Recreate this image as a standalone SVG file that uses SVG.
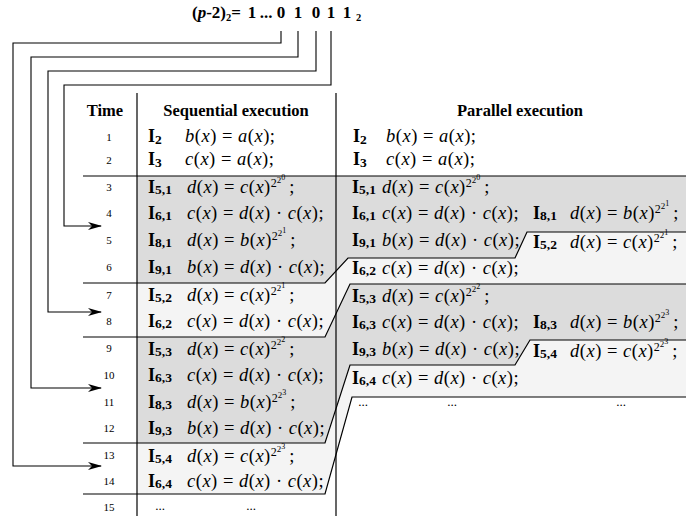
<svg xmlns="http://www.w3.org/2000/svg" width="697" height="516" viewBox="0 0 697 516">
  <defs>
    <style>
      .hd { font-family: "Liberation Serif", serif; font-weight: bold; font-size: 16.5px; }
      .bits { font-family: "Liberation Serif", serif; font-weight: bold; font-size: 17px; }
      .sub { font-size: 10.5px; }
      .num { font-family: "Liberation Serif", serif; font-size: 11px; text-anchor: middle; }
      .lb { font-family: "Liberation Serif", serif; font-weight: bold; font-size: 18px; }
      .lb tspan { font-size: 13.5px; }
      .m { font-family: "Liberation Serif", serif; font-size: 18.5px; word-spacing: 0; letter-spacing: 0.5px; }
      .i { font-style: italic; }
      .e1 { font-size: 12px; letter-spacing: 0; }
      .e2 { font-size: 9px; letter-spacing: 0; }
      .e3 { font-size: 8px; letter-spacing: 0; }
      .dots { font-family: "Liberation Serif", serif; font-size: 13px; text-anchor: middle; }
      .rule { fill: none; stroke: #000; stroke-width: 1.2; }
      .wire { fill: none; stroke: #000; stroke-width: 1.1; }
      .dark { fill: #dcdcdc; }
      .light { fill: #f4f4f4; }
    </style>
    <marker id="arrow" markerWidth="14" markerHeight="10" refX="13" refY="5" orient="auto" markerUnits="userSpaceOnUse">
      <path d="M0,1 L14,5 L0,9 L4,5 Z" fill="#000"/>
    </marker>
  </defs>

  <rect width="697" height="516" fill="#fff"/>

  <!-- binary expansion of p-2 -->
  <g id="exponent-bits">
    <text class="bits" x="192" y="18">(<tspan font-style="italic">p</tspan>-2)<tspan class="sub" dy="3">2</tspan><tspan dy="-3">=</tspan></text>
    <text class="bits" text-anchor="middle" x="252" y="18">1</text>
    <text class="bits" text-anchor="middle" x="266" y="18">...</text>
    <text class="bits" text-anchor="middle" x="281" y="18">0</text>
    <text class="bits" text-anchor="middle" x="298" y="18">1</text>
    <text class="bits" text-anchor="middle" x="316" y="18">0</text>
    <text class="bits" text-anchor="middle" x="331" y="18">1</text>
    <text class="bits" text-anchor="middle" x="347" y="18">1</text>
    <text class="bits sub" x="356" y="21">2</text>
  </g>

  <!-- shaded execution blocks -->
  <g id="blocks">
    <polygon class="dark" points="137,176 686,176 686,232 527,232 515,258 348,258 325,283 137,283"/>
    <polygon class="light" points="137,283 325,283 348,258 515,258 527,232 686,232 686,284 350,284 325,337 137,337"/>
    <polygon class="dark" points="137,337 325,337 350,284 686,284 686,340 530,340 515,365 350,365 325,443 137,443"/>
    <polygon class="light" points="137,443 325,443 350,365 515,365 530,340 686,340 686,397 352,397 325,494 137,494"/>
  </g>

  <!-- table rules -->
  <g id="rules">
    <line class="rule" x1="137" y1="93" x2="137" y2="516"/>
    <line class="rule" x1="336" y1="93" x2="336" y2="516"/>
    <line class="rule" x1="83" y1="176" x2="686" y2="176"/>
    <polyline class="rule" points="83,283 325,283 348,258 515,258 527,232 686,232"/>
    <polyline class="rule" points="83,337 325,337 350,284 686,284"/>
    <polyline class="rule" points="83,443 325,443 350,365 515,365 530,340 686,340"/>
    <polyline class="rule" points="83,494 325,494 352,397 686,397"/>
  </g>

  <!-- column headers -->
  <g id="headers">
    <text class="hd" x="105" y="116" text-anchor="middle">Time</text>
    <text class="hd" x="236" y="116" text-anchor="middle">Sequential execution</text>
    <text class="hd" x="520" y="116" text-anchor="middle">Parallel execution</text>
  </g>

  <!-- time steps -->
  <g id="time">
    <text class="num" x="109" y="141">1</text>
    <text class="num" x="109" y="164">2</text>
    <text class="num" x="109" y="191">3</text>
    <text class="num" x="109" y="217">4</text>
    <text class="num" x="109" y="244">5</text>
    <text class="num" x="109" y="271">6</text>
    <text class="num" x="109" y="299">7</text>
    <text class="num" x="109" y="325">8</text>
    <text class="num" x="109" y="352">9</text>
    <text class="num" x="109" y="379">10</text>
    <text class="num" x="109" y="406">11</text>
    <text class="num" x="109" y="432">12</text>
    <text class="num" x="109" y="459">13</text>
    <text class="num" x="109" y="485">14</text>
    <text class="num" x="109" y="511">15</text>
  </g>

  <!-- sequential execution -->
  <g id="sequential">
    <text class="lb" x="148" y="142">I<tspan dy="2">2</tspan></text>
    <text class="m" x="185" y="142"><tspan class="i">b</tspan>(<tspan class="i">x</tspan>) = <tspan class="i">a</tspan>(<tspan class="i">x</tspan>);</text>
    <text class="lb" x="148" y="165">I<tspan dy="2">3</tspan></text>
    <text class="m" x="185" y="165"><tspan class="i">c</tspan>(<tspan class="i">x</tspan>) = <tspan class="i">a</tspan>(<tspan class="i">x</tspan>);</text>

    <text class="lb" x="148" y="193">I<tspan dy="1">5,1</tspan></text>
    <text class="m" x="187" y="193"><tspan class="i">d</tspan>(<tspan class="i">x</tspan>) = <tspan class="i">c</tspan>(<tspan class="i">x</tspan>)<tspan class="e1" dy="-6">2</tspan><tspan class="e2" dy="-4">2</tspan><tspan class="e3" dy="-3">0</tspan><tspan dx="4" dy="13">;</tspan></text>
    <text class="lb" x="148" y="219">I<tspan dy="1">6,1</tspan></text>
    <text class="m" x="187" y="219"><tspan class="i">c</tspan>(<tspan class="i">x</tspan>) = <tspan class="i">d</tspan>(<tspan class="i">x</tspan>) · <tspan class="i">c</tspan>(<tspan class="i">x</tspan>);</text>
    <text class="lb" x="148" y="246">I<tspan dy="1">8,1</tspan></text>
    <text class="m" x="187" y="246"><tspan class="i">d</tspan>(<tspan class="i">x</tspan>) = <tspan class="i">b</tspan>(<tspan class="i">x</tspan>)<tspan class="e1" dy="-6">2</tspan><tspan class="e2" dy="-4">2</tspan><tspan class="e3" dy="-3">1</tspan><tspan dx="4" dy="13">;</tspan></text>
    <text class="lb" x="148" y="273">I<tspan dy="1">9,1</tspan></text>
    <text class="m" x="187" y="273"><tspan class="i">b</tspan>(<tspan class="i">x</tspan>) = <tspan class="i">d</tspan>(<tspan class="i">x</tspan>) · <tspan class="i">c</tspan>(<tspan class="i">x</tspan>);</text>

    <text class="lb" x="148" y="301">I<tspan dy="1">5,2</tspan></text>
    <text class="m" x="187" y="301"><tspan class="i">d</tspan>(<tspan class="i">x</tspan>) = <tspan class="i">c</tspan>(<tspan class="i">x</tspan>)<tspan class="e1" dy="-6">2</tspan><tspan class="e2" dy="-4">2</tspan><tspan class="e3" dy="-3">1</tspan><tspan dx="4" dy="13">;</tspan></text>
    <text class="lb" x="148" y="327">I<tspan dy="1">6,2</tspan></text>
    <text class="m" x="187" y="327"><tspan class="i">c</tspan>(<tspan class="i">x</tspan>) = <tspan class="i">d</tspan>(<tspan class="i">x</tspan>) · <tspan class="i">c</tspan>(<tspan class="i">x</tspan>);</text>

    <text class="lb" x="148" y="355">I<tspan dy="1">5,3</tspan></text>
    <text class="m" x="187" y="355"><tspan class="i">d</tspan>(<tspan class="i">x</tspan>) = <tspan class="i">c</tspan>(<tspan class="i">x</tspan>)<tspan class="e1" dy="-6">2</tspan><tspan class="e2" dy="-4">2</tspan><tspan class="e3" dy="-3">2</tspan><tspan dx="4" dy="13">;</tspan></text>
    <text class="lb" x="148" y="381">I<tspan dy="1">6,3</tspan></text>
    <text class="m" x="187" y="381"><tspan class="i">c</tspan>(<tspan class="i">x</tspan>) = <tspan class="i">d</tspan>(<tspan class="i">x</tspan>) · <tspan class="i">c</tspan>(<tspan class="i">x</tspan>);</text>
    <text class="lb" x="148" y="408">I<tspan dy="1">8,3</tspan></text>
    <text class="m" x="187" y="408"><tspan class="i">d</tspan>(<tspan class="i">x</tspan>) = <tspan class="i">b</tspan>(<tspan class="i">x</tspan>)<tspan class="e1" dy="-6">2</tspan><tspan class="e2" dy="-4">2</tspan><tspan class="e3" dy="-3">3</tspan><tspan dx="4" dy="13">;</tspan></text>
    <text class="lb" x="148" y="434">I<tspan dy="1">9,3</tspan></text>
    <text class="m" x="187" y="434"><tspan class="i">b</tspan>(<tspan class="i">x</tspan>) = <tspan class="i">d</tspan>(<tspan class="i">x</tspan>) · <tspan class="i">c</tspan>(<tspan class="i">x</tspan>);</text>

    <text class="lb" x="148" y="462">I<tspan dy="1">5,4</tspan></text>
    <text class="m" x="187" y="462"><tspan class="i">d</tspan>(<tspan class="i">x</tspan>) = <tspan class="i">c</tspan>(<tspan class="i">x</tspan>)<tspan class="e1" dy="-6">2</tspan><tspan class="e2" dy="-4">2</tspan><tspan class="e3" dy="-3">3</tspan><tspan dx="4" dy="13">;</tspan></text>
    <text class="lb" x="148" y="487">I<tspan dy="1">6,4</tspan></text>
    <text class="m" x="187" y="487"><tspan class="i">c</tspan>(<tspan class="i">x</tspan>) = <tspan class="i">d</tspan>(<tspan class="i">x</tspan>) · <tspan class="i">c</tspan>(<tspan class="i">x</tspan>);</text>

    <text class="dots" x="160" y="510">...</text>
    <text class="dots" x="251" y="510">...</text>
  </g>

  <!-- parallel execution -->
  <g id="parallel">
    <text class="lb" x="353" y="142">I<tspan dy="2">2</tspan></text>
    <text class="m" x="386" y="142"><tspan class="i">b</tspan>(<tspan class="i">x</tspan>) = <tspan class="i">a</tspan>(<tspan class="i">x</tspan>);</text>
    <text class="lb" x="353" y="165">I<tspan dy="2">3</tspan></text>
    <text class="m" x="386" y="165"><tspan class="i">c</tspan>(<tspan class="i">x</tspan>) = <tspan class="i">a</tspan>(<tspan class="i">x</tspan>);</text>

    <text class="lb" x="352" y="193">I<tspan dy="1">5,1</tspan></text>
    <text class="m" x="382" y="193"><tspan class="i">d</tspan>(<tspan class="i">x</tspan>) = <tspan class="i">c</tspan>(<tspan class="i">x</tspan>)<tspan class="e1" dy="-6">2</tspan><tspan class="e2" dy="-4">2</tspan><tspan class="e3" dy="-3">0</tspan><tspan dx="4" dy="13">;</tspan></text>
    <text class="lb" x="352" y="219">I<tspan dy="1">6,1</tspan></text>
    <text class="m" x="382" y="219"><tspan class="i">c</tspan>(<tspan class="i">x</tspan>) = <tspan class="i">d</tspan>(<tspan class="i">x</tspan>) · <tspan class="i">c</tspan>(<tspan class="i">x</tspan>);</text>
    <text class="lb" x="533" y="219">I<tspan dy="1">8,1</tspan></text>
    <text class="m" x="570" y="219"><tspan class="i">d</tspan>(<tspan class="i">x</tspan>) = <tspan class="i">b</tspan>(<tspan class="i">x</tspan>)<tspan class="e1" dy="-6">2</tspan><tspan class="e2" dy="-4">2</tspan><tspan class="e3" dy="-3">1</tspan><tspan dx="4" dy="13">;</tspan></text>
    <text class="lb" x="352" y="246">I<tspan dy="1">9,1</tspan></text>
    <text class="m" x="382" y="246"><tspan class="i">b</tspan>(<tspan class="i">x</tspan>) = <tspan class="i">d</tspan>(<tspan class="i">x</tspan>) · <tspan class="i">c</tspan>(<tspan class="i">x</tspan>);</text>
    <text class="lb" x="533" y="248">I<tspan dy="1">5,2</tspan></text>
    <text class="m" x="570" y="248"><tspan class="i">d</tspan>(<tspan class="i">x</tspan>) = <tspan class="i">c</tspan>(<tspan class="i">x</tspan>)<tspan class="e1" dy="-6">2</tspan><tspan class="e2" dy="-4">2</tspan><tspan class="e3" dy="-3">1</tspan><tspan dx="4" dy="13">;</tspan></text>
    <text class="lb" x="352" y="274">I<tspan dy="1">6,2</tspan></text>
    <text class="m" x="382" y="274"><tspan class="i">c</tspan>(<tspan class="i">x</tspan>) = <tspan class="i">d</tspan>(<tspan class="i">x</tspan>) · <tspan class="i">c</tspan>(<tspan class="i">x</tspan>);</text>

    <text class="lb" x="352" y="302">I<tspan dy="1">5,3</tspan></text>
    <text class="m" x="382" y="302"><tspan class="i">d</tspan>(<tspan class="i">x</tspan>) = <tspan class="i">c</tspan>(<tspan class="i">x</tspan>)<tspan class="e1" dy="-6">2</tspan><tspan class="e2" dy="-4">2</tspan><tspan class="e3" dy="-3">2</tspan><tspan dx="4" dy="13">;</tspan></text>
    <text class="lb" x="352" y="328">I<tspan dy="1">6,3</tspan></text>
    <text class="m" x="382" y="328"><tspan class="i">c</tspan>(<tspan class="i">x</tspan>) = <tspan class="i">d</tspan>(<tspan class="i">x</tspan>) · <tspan class="i">c</tspan>(<tspan class="i">x</tspan>);</text>
    <text class="lb" x="533" y="328">I<tspan dy="1">8,3</tspan></text>
    <text class="m" x="570" y="328"><tspan class="i">d</tspan>(<tspan class="i">x</tspan>) = <tspan class="i">b</tspan>(<tspan class="i">x</tspan>)<tspan class="e1" dy="-6">2</tspan><tspan class="e2" dy="-4">2</tspan><tspan class="e3" dy="-3">3</tspan><tspan dx="4" dy="13">;</tspan></text>
    <text class="lb" x="352" y="355">I<tspan dy="1">9,3</tspan></text>
    <text class="m" x="382" y="355"><tspan class="i">b</tspan>(<tspan class="i">x</tspan>) = <tspan class="i">d</tspan>(<tspan class="i">x</tspan>) · <tspan class="i">c</tspan>(<tspan class="i">x</tspan>);</text>
    <text class="lb" x="533" y="357">I<tspan dy="1">5,4</tspan></text>
    <text class="m" x="570" y="357"><tspan class="i">d</tspan>(<tspan class="i">x</tspan>) = <tspan class="i">c</tspan>(<tspan class="i">x</tspan>)<tspan class="e1" dy="-6">2</tspan><tspan class="e2" dy="-4">2</tspan><tspan class="e3" dy="-3">3</tspan><tspan dx="4" dy="13">;</tspan></text>
    <text class="lb" x="352" y="384">I<tspan dy="1">6,4</tspan></text>
    <text class="m" x="382" y="384"><tspan class="i">c</tspan>(<tspan class="i">x</tspan>) = <tspan class="i">d</tspan>(<tspan class="i">x</tspan>) · <tspan class="i">c</tspan>(<tspan class="i">x</tspan>);</text>

    <text class="dots" x="363" y="406">...</text>
    <text class="dots" x="452" y="406">...</text>
    <text class="dots" x="621" y="406">...</text>
  </g>

  <!-- bit lines feeding the time steps -->
  <g id="connectors">
    <path class="wire" d="M281,31 V43 H13 V466 H101" marker-end="url(#arrow)"/>
    <path class="wire" d="M298,31 V57 H31 V388 H101" marker-end="url(#arrow)"/>
    <path class="wire" d="M316,31 V71 H48 V312 H101" marker-end="url(#arrow)"/>
    <path class="wire" d="M331,31 V85 H64 V226 H101" marker-end="url(#arrow)"/>
  </g>
</svg>
